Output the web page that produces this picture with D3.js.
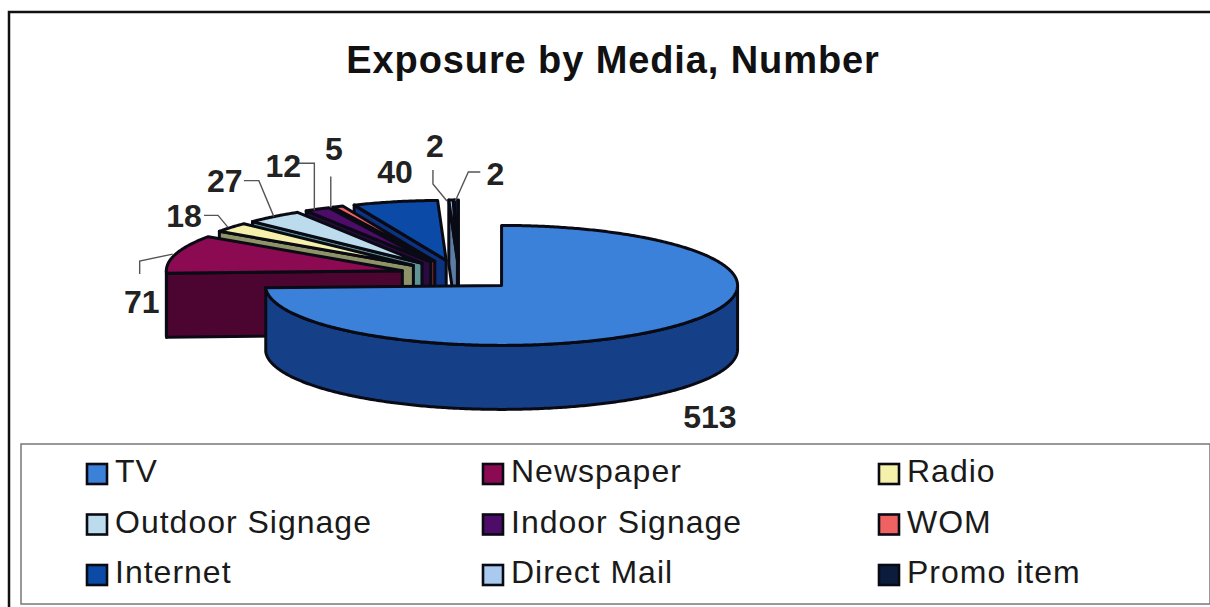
<!DOCTYPE html>
<html>
<head>
<meta charset="utf-8">
<script src="https://cdn.jsdelivr.net/npm/d3@7"></script>
<style>
  html, body { margin: 0; padding: 0; background: #fff; }
  svg { display: block; font-family: "Liberation Sans", Arial, sans-serif; }
</style>
</head>
<body>
<svg id="chart" width="1210" height="607"></svg>
<script>
// Media exposure counts, in pie order starting from twelve o'clock
const categories = ["TV", "Newspaper", "Radio", "Outdoor Signage", "Indoor Signage", "WOM", "Internet", "Direct Mail", "Promo item"];
const values = [513, 71, 18, 27, 12, 5, 40, 2, 2];
const topColors = ["#3b80d9", "#8c0a52", "#f6f1aa", "#bcdcee", "#4c0c68", "#ee6262", "#0b4aa6", "#a9c9ee", "#0c1c3c"];
const wallColors = ["#154088", "#4c0530", "#8f9468", "#5f9494", "#2a0a40", "#7a2a2a", "#0c3280", "#5c7ca4", "#060c22"];
const titleText = "Exposure by Media, Number";

const svg = d3.select("#chart");

// Pie geometry: a flattened disc with one explosion factor for every slice
const rx = 236, ry = 60, depth = 64, explode = 0.25;
const pieCenter = { x: 459, y: 275 };

const slices = d3.pie().sort(null).value(d => d)(values).map((s, i) => {
  const mid = (s.startAngle + s.endAngle) / 2;
  return {
    index: i,
    value: s.value,
    start: s.startAngle,
    end: s.endAngle,
    mid,
    cx: pieCenter.x + explode * rx * Math.sin(mid),
    cy: pieCenter.y - explode * ry * Math.cos(mid)
  };
});

const rim = (s, a) => [s.cx + rx * Math.sin(a), s.cy - ry * Math.cos(a)];
const arcSamples = (from, to) => {
  const n = Math.max(2, Math.ceil((to - from) / 0.01));
  return d3.range(n + 1).map(k => from + (to - from) * k / n);
};
const line = d3.line();
const drop = p => [p[0], p[1] + depth];

// Painter's order: last small slice first, so each slice's top hides the
// wall of the one after it; the big TV slice closes the stack.
const layers = svg.append("g").selectAll("g")
  .data([...slices.slice(1).reverse(), slices[0]])
  .join("g")
  .attr("stroke", "#0a0a14")
  .attr("stroke-width", 3)
  .attr("stroke-linejoin", "round");

layers.each(function (s) {
  const g = d3.select(this);
  const center = [s.cx, s.cy];
  const wall = wallColors[s.index];

  // Cut face along the start radius
  if (s.index !== 0) {
    const b = rim(s, s.start);
    g.append("path").attr("fill", wall)
      .attr("d", line([center, b, drop(b), drop(center)]) + "Z");
  }

  // Outer rim wall, visible across the front half of the ellipse
  const from = Math.max(s.start, Math.PI / 2);
  const to = Math.min(s.end, 3 * Math.PI / 2);
  if (to > from) {
    const upper = arcSamples(from, to).map(a => rim(s, a));
    g.append("path").attr("fill", wall)
      .attr("d", line([...upper, ...upper.slice().reverse().map(drop)]) + "Z");
  }

  // Top face
  const top = arcSamples(s.start, s.end).map(a => rim(s, a));
  g.append("path").attr("fill", topColors[s.index])
    .attr("d", line([center, ...top]) + "Z");
});

// Frame: heavy rule along the top and left edges
svg.append("path")
  .attr("d", "M9,607V12H1210")
  .attr("fill", "none").attr("stroke", "#111").attr("stroke-width", 2.5);

svg.append("text")
  .attr("x", 613).attr("y", 73)
  .attr("text-anchor", "middle")
  .attr("font-size", 38).attr("letter-spacing", 0.9).attr("font-weight", "bold").attr("fill", "#111")
  .text(titleText);

// Value labels; text and leader paths are offsets from the middle of each slice's rim
const labelLayout = [
  { dx: 38, dy: 90, leader: null },
  { dx: -34, dy: 47, leader: [[-3, 0], [-36, 7], [-36, 20]] },
  { dx: -47, dy: -12, leader: [[-3, 0], [-13, -12], [-27, -12]] },
  { dx: -49, dy: -36, leader: [[0, 0], [-15, -36], [-30, -36]] },
  { dx: -34, dy: -44, leader: [[-3, 1], [-3, -46], [-19, -46]] },
  { dx: -4, dy: -58, leader: [[-7, 1], [-7, -30]] },
  { dx: 0, dy: -30, leader: null },
  { dx: -16, dy: -55, leader: [[-4, 1], [-18, -16], [-18, -30]] },
  { dx: 39, dy: -27, leader: [[-1, 1], [12, -28], [24, -28]] }
];

const labels = svg.append("g");
slices.forEach((s, i) => {
  const anchor = rim(s, s.mid);
  const spec = labelLayout[i];
  if (spec.leader) {
    labels.append("path")
      .attr("d", line(spec.leader.map(o => [anchor[0] + o[0], anchor[1] + o[1]])))
      .attr("fill", "none").attr("stroke", "#555").attr("stroke-width", 1.4);
  }
  labels.append("text")
    .attr("x", anchor[0] + spec.dx).attr("y", anchor[1] + spec.dy)
    .attr("dy", "0.36em")
    .attr("text-anchor", "middle")
    .attr("font-size", 32).attr("font-weight", "bold").attr("fill", "#222")
    .text(s.value);
});

// Legend: three columns by three rows inside a thin box
svg.append("rect")
  .attr("x", 21).attr("y", 444).attr("width", 1189).attr("height", 160)
  .attr("fill", "none").attr("stroke", "#777").attr("stroke-width", 1.5);

const legendCol = d3.scalePoint().domain([0, 1, 2]).range([86, 878]);
const legendRow = d3.scalePoint().domain([0, 1, 2]).range([474, 575]);

const legend = svg.append("g").selectAll("g")
  .data(categories)
  .join("g")
  .attr("transform", (d, i) => `translate(${legendCol(i % 3)},${legendRow(Math.floor(i / 3))})`);

legend.append("rect")
  .attr("x", 1).attr("y", -10).attr("width", 20).attr("height", 20)
  .attr("fill", (d, i) => topColors[i])
  .attr("stroke", "#0a0a14").attr("stroke-width", 2.6);

legend.append("text")
  .attr("x", 29).attr("y", 8)
  .attr("font-size", 32).attr("letter-spacing", 1).attr("fill", "#1a1a1a")
  .text(d => d);
</script>
</body>
</html>
